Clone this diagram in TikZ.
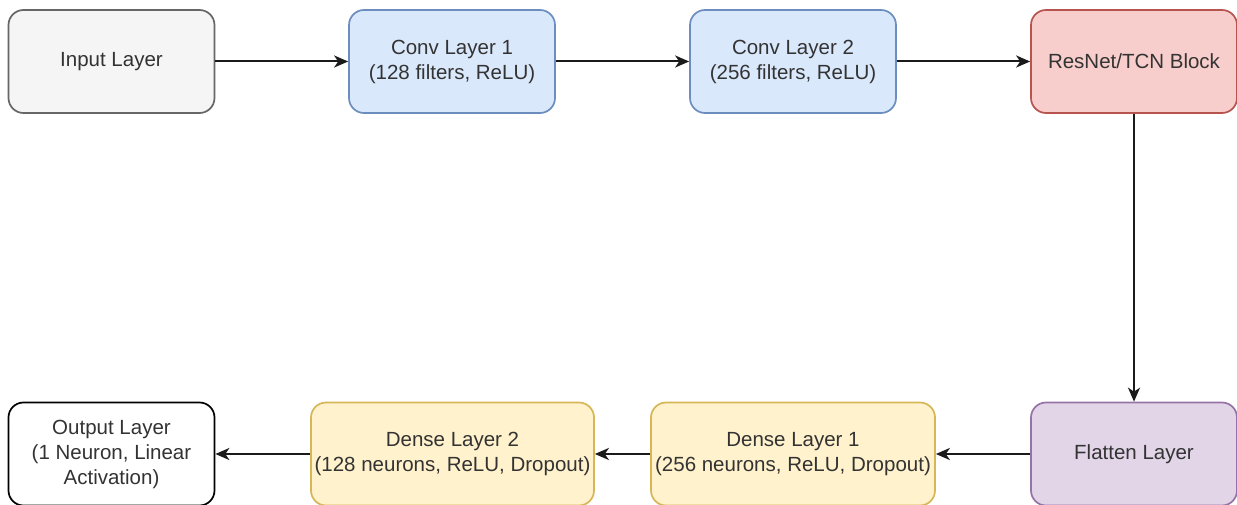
\documentclass[tikz,border=0pt]{standalone}
\usepackage{fontspec}
\setmainfont{Liberation Sans}
\usetikzlibrary{arrows.meta}
\definecolor{grayfill}{HTML}{F5F5F5}
\definecolor{grayline}{HTML}{666666}
\definecolor{bluefill}{HTML}{DAE8FC}
\definecolor{blueline}{HTML}{6C8EBF}
\definecolor{redfill}{HTML}{F8CECC}
\definecolor{redline}{HTML}{B85450}
\definecolor{purplefill}{HTML}{E1D5E7}
\definecolor{purpleline}{HTML}{9673A6}
\definecolor{yellowfill}{HTML}{FFF2CC}
\definecolor{yellowline}{HTML}{D6B656}
\definecolor{textgray}{HTML}{333333}
\definecolor{arrowgray}{HTML}{1A1A1A}
\begin{document}
\begin{tikzpicture}[x=1pt,y=-1pt,
  layer/.style={draw, rectangle, rounded corners=15pt, line width=1.7pt,
    minimum width=206pt, minimum height=103pt, align=center,
    text=textgray, font=\fontsize{20.5}{25}\selectfont, inner sep=2pt},
  wide/.style={layer, minimum width=284pt},
  graybox/.style={fill=grayfill, draw=grayline},
  bluebox/.style={fill=bluefill, draw=blueline},
  redbox/.style={fill=redfill, draw=redline},
  purplebox/.style={fill=purplefill, draw=purpleline},
  yellowbox/.style={fill=yellowfill, draw=yellowline},
  whitebox/.style={fill=white, draw=black},
  flow/.style={draw=arrowgray, line width=2pt,
    -{Stealth[length=14pt, width=12pt, inset=4pt]}}
]
\useasboundingbox (0,0) rectangle (1237,505);

% top row
\node[layer, graybox] (input) at (111.5,61.5) {Input Layer};
\node[layer, bluebox] (conv1) at (452,61.5) {Conv Layer 1\\(128 filters, ReLU)};
\node[layer, bluebox] (conv2) at (793,61.5) {Conv Layer 2\\(256 filters, ReLU)};
\node[layer, redbox] (resnet) at (1134,61.5) {ResNet/TCN Block};

% bottom row
\node[layer, purplebox] (flatten) at (1134,454) {Flatten Layer};
\node[wide, yellowbox] (dense1) at (793,454) {Dense Layer 1\\(256 neurons, ReLU, Dropout)};
\node[wide, yellowbox, minimum width=283pt] (dense2) at (452.5,454) {Dense Layer 2\\(128 neurons, ReLU, Dropout)};
\node[layer, whitebox] (output) at (111.5,454) {Output Layer\\(1 Neuron, Linear\\Activation)};

% connectors
\draw[flow] (input) -- (conv1);
\draw[flow] (conv1) -- (conv2);
\draw[flow] (conv2) -- (resnet);
\draw[flow] (resnet) -- (flatten);
\draw[flow] (flatten) -- (dense1);
\draw[flow] (dense1) -- (dense2);
\draw[flow] (dense2) -- (output);
\end{tikzpicture}
\end{document}
